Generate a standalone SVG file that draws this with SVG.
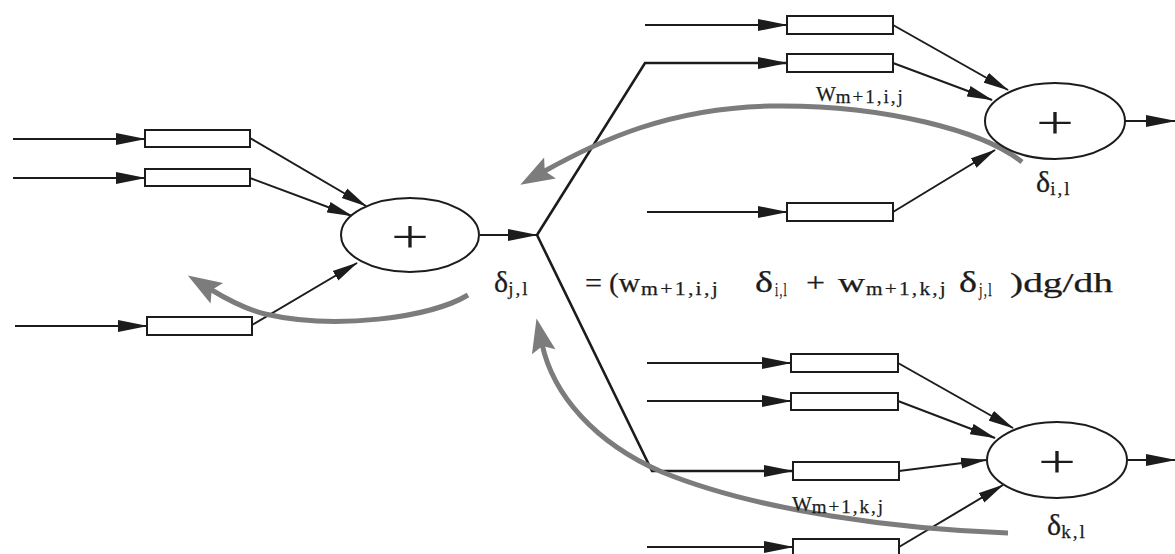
<svg xmlns="http://www.w3.org/2000/svg" width="1175" height="554" viewBox="0 0 1175 554">
  <defs>
    <style>
      .wire { stroke: #1c1c1c; stroke-width: 2; fill: none; }
      .trunk { stroke: #1c1c1c; stroke-width: 2.6; fill: none; }
      .box { fill: #ffffff; stroke: #1c1c1c; stroke-width: 2; }
      .sum { fill: #ffffff; stroke: #1c1c1c; stroke-width: 2; }
      .back { stroke: #7c7c7c; stroke-width: 5; fill: none; }
      .plus { font-family: "Liberation Serif", "DejaVu Serif", serif; font-size: 46px; fill: #1c1c1c; text-anchor: middle; }
      .lbl { font-family: "Liberation Serif", "DejaVu Serif", serif; fill: #1c1c1c; stroke: #1c1c1c; stroke-width: 0.25; }
      .main { font-size: 28px; }
      .sub { font-size: 19px; letter-spacing: 2px; }
      .dl { font-size: 30px; }
    </style>
    <marker id="arrow" markerUnits="userSpaceOnUse" markerWidth="30" markerHeight="12" refX="29" refY="6" orient="auto">
      <path d="M0,0 L30,6 L0,12 z" fill="#1c1c1c"/>
    </marker>
    <marker id="arrowSm" markerUnits="userSpaceOnUse" markerWidth="26" markerHeight="12" refX="25" refY="6" orient="auto">
      <path d="M0,0.5 L26,6 L0,11.5 z" fill="#1c1c1c"/>
    </marker>
    <marker id="backArrow" markerUnits="userSpaceOnUse" markerWidth="34" markerHeight="26" refX="8" refY="13" orient="auto" overflow="visible">
      <path d="M0,1 L34,13 L0,25 L6,13 z" fill="#7c7c7c"/>
    </marker>
  </defs>

  <rect width="1175" height="554" fill="#ffffff"/>

  <!-- connectors -->
  <g id="connectors">
    <!-- left neuron inputs -->
    <line class="wire" x1="13" y1="139" x2="145" y2="139" marker-end="url(#arrow)"/>
    <line class="wire" x1="13" y1="178" x2="145" y2="178" marker-end="url(#arrow)"/>
    <line class="wire" x1="15" y1="326" x2="147" y2="326" marker-end="url(#arrow)"/>
    <line class="wire" x1="250" y1="138" x2="366" y2="206" marker-end="url(#arrowSm)"/>
    <line class="wire" x1="250" y1="178" x2="352" y2="216" marker-end="url(#arrowSm)"/>
    <line class="wire" x1="252" y1="325" x2="357" y2="263" marker-end="url(#arrowSm)"/>
    <!-- left neuron output to fan-out point -->
    <line class="wire" x1="480" y1="235" x2="537" y2="235" marker-end="url(#arrow)"/>
    <!-- fan-out branches -->
    <polyline class="trunk" points="537,235 645,63 787,63" marker-end="url(#arrow)"/>
    <polyline class="trunk" points="537,235 652,471 793,471" marker-end="url(#arrow)"/>

    <!-- upper right neuron -->
    <line class="wire" x1="645" y1="25" x2="787" y2="25" marker-end="url(#arrow)"/>
    <line class="wire" x1="647" y1="212" x2="787" y2="212" marker-end="url(#arrow)"/>
    <line class="wire" x1="893" y1="25" x2="1008" y2="90" marker-end="url(#arrowSm)"/>
    <line class="wire" x1="893" y1="63" x2="992" y2="100" marker-end="url(#arrowSm)"/>
    <line class="wire" x1="893" y1="212" x2="995" y2="150" marker-end="url(#arrowSm)"/>
    <line class="wire" x1="1125" y1="121" x2="1175" y2="121" marker-end="url(#arrow)"/>

    <!-- lower right neuron -->
    <line class="wire" x1="647" y1="363" x2="791" y2="363" marker-end="url(#arrow)"/>
    <line class="wire" x1="647" y1="401" x2="791" y2="401" marker-end="url(#arrow)"/>
    <line class="wire" x1="647" y1="547" x2="793" y2="547" marker-end="url(#arrow)"/>
    <line class="wire" x1="898" y1="363" x2="1013" y2="428" marker-end="url(#arrowSm)"/>
    <line class="wire" x1="898" y1="401" x2="995" y2="438" marker-end="url(#arrowSm)"/>
    <line class="wire" x1="899" y1="471" x2="986" y2="460" marker-end="url(#arrowSm)"/>
    <line class="wire" x1="899" y1="547" x2="1003" y2="485" marker-end="url(#arrowSm)"/>
    <line class="wire" x1="1127" y1="460" x2="1175" y2="460" marker-end="url(#arrow)"/>

    <!-- back-propagated error paths -->
    <path class="back" d="M1022,162 C985,132 885,104 770,106 C670,108 600,140 543,172" marker-end="url(#backArrow)"/>
    <path class="back" d="M1008,533 C900,529 760,512 662,472 C595,443 553,395 542,344" marker-end="url(#backArrow)"/>
    <path class="back" d="M468,295 C430,318 335,330 265,314 C245,309 228,300 210,289" marker-end="url(#backArrow)"/>
  </g>

  <!-- hidden neuron j -->
  <g id="node-j">
    <rect class="box" x="145" y="130" width="105" height="17"/>
    <rect class="box" x="145" y="169" width="105" height="17"/>
    <rect class="box" x="147" y="317" width="105" height="18"/>
    <ellipse class="sum" cx="410" cy="235" rx="69" ry="37"/>
    <text class="plus" x="410" y="252" textLength="38" lengthAdjust="spacingAndGlyphs">+</text>
    <text class="lbl dl" x="494" y="292">δ<tspan class="sub" font-size="18" dy="3">j,l</tspan></text>
  </g>

  <!-- neuron i -->
  <g id="node-i">
    <rect class="box" x="787" y="16" width="106" height="18"/>
    <rect class="box" x="787" y="54" width="106" height="18"/>
    <rect class="box" x="787" y="203" width="106" height="18"/>
    <ellipse class="sum" cx="1055" cy="121" rx="70" ry="38"/>
    <text class="plus" x="1055" y="138" textLength="38" lengthAdjust="spacingAndGlyphs">+</text>
    <text class="lbl dl" x="1036" y="192">δ<tspan class="sub" font-size="18" dy="3">i,l</tspan></text>
    <text class="lbl" x="816" y="101" font-size="21">W<tspan class="sub" dy="2">m+1,i,j</tspan></text>
  </g>

  <!-- neuron k -->
  <g id="node-k">
    <rect class="box" x="791" y="354" width="107" height="18"/>
    <rect class="box" x="791" y="393" width="107" height="17"/>
    <rect class="box" x="793" y="462" width="106" height="18"/>
    <rect class="box" x="793" y="539" width="106" height="18"/>
    <ellipse class="sum" cx="1057" cy="460" rx="70" ry="38"/>
    <text class="plus" x="1057" y="477" textLength="38" lengthAdjust="spacingAndGlyphs">+</text>
    <text class="lbl dl" x="1047" y="535">δ<tspan class="sub" font-size="18" dy="3">k,l</tspan></text>
    <text class="lbl" x="792" y="511" font-size="21">W<tspan class="sub" dy="2">m+1,k,j</tspan></text>
  </g>

  <!-- error update rule -->
  <g id="equation" class="lbl">
    <text class="main" x="585" y="292" textLength="17" lengthAdjust="spacingAndGlyphs">=</text>
    <text class="main" x="609" y="292" textLength="31" lengthAdjust="spacingAndGlyphs">(w</text>
    <text class="sub" x="641" y="295" textLength="79" lengthAdjust="spacingAndGlyphs">m+1,i,j</text>
    <text class="dl" x="755" y="292" textLength="18" lengthAdjust="spacingAndGlyphs">δ</text>
    <text class="sub" font-size="18" x="775" y="296" textLength="13" lengthAdjust="spacingAndGlyphs">i,l</text>
    <text class="main" x="806" y="292" textLength="19" lengthAdjust="spacingAndGlyphs">+</text>
    <text class="main" x="838" y="292" textLength="27" lengthAdjust="spacingAndGlyphs">w</text>
    <text class="sub" x="866" y="295" textLength="82" lengthAdjust="spacingAndGlyphs">m+1,k,j</text>
    <text class="dl" x="959" y="292" textLength="18" lengthAdjust="spacingAndGlyphs">δ</text>
    <text class="sub" font-size="18" x="979" y="296" textLength="14" lengthAdjust="spacingAndGlyphs">j,l</text>
    <text class="main" x="1010" y="292" textLength="103" lengthAdjust="spacingAndGlyphs">)dg/dh</text>
  </g>
</svg>
